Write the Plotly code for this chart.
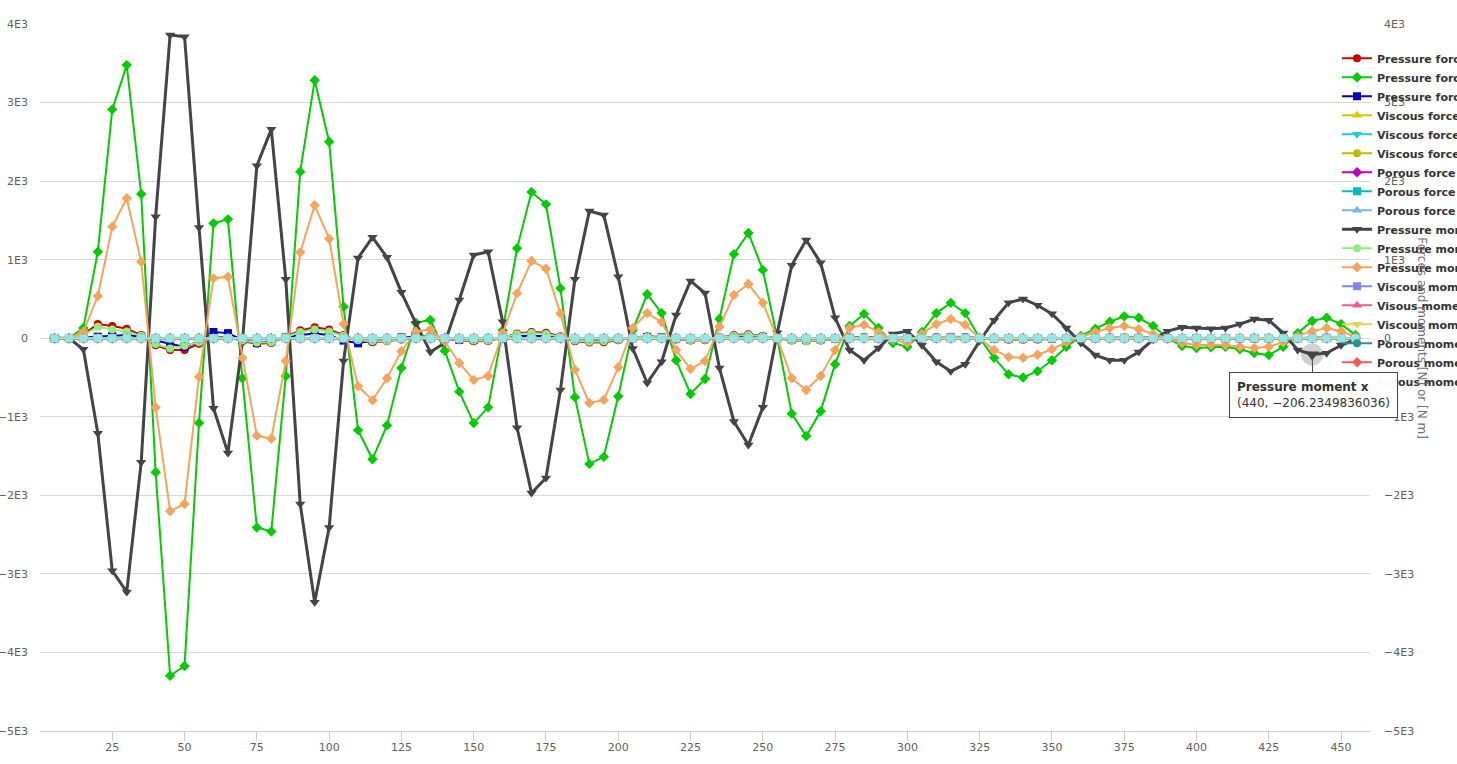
import plotly.graph_objects as go

# ---------------- data ----------------
x_values = [5, 10, 15, 20, 25, 30, 35, 40, 45, 50,
            55, 60, 65, 70, 75, 80, 85, 90, 95, 100,
            105, 110, 115, 120, 125, 130, 135, 140, 145, 150,
            155, 160, 165, 170, 175, 180, 185, 190, 195, 200,
            205, 210, 215, 220, 225, 230, 235, 240, 245, 250,
            255, 260, 265, 270, 275, 280, 285, 290, 295, 300,
            305, 310, 315, 320, 325, 330, 335, 340, 345, 350,
            355, 360, 365, 370, 375, 380, 385, 390, 395, 400,
            405, 410, 415, 420, 425, 430, 435, 440, 445, 450,
            455]

pressure_force_x = [0, 0, 50, 180, 155, 120, 40, -90, -150, -150,
                    -70, 10, 20, -40, -70, -60, 20, 100, 140, 110,
                    40, -30, -50, -40, -15, 20, 30, 5, -25, -40,
                    -35, 10, 60, 80, 70, 25, -40, -55, -50, -25,
                    10, 25, 15, -15, -30, -25, 10, 40, 50, 30,
                    0, -30, -40, -30, -10, 10, 15, 5, -5, -5,
                    5, 15, 20, 15, 0, -10, -20, -20, -15, -10,
                    -5, 0, 5, 10, 10, 10, 5, 0, -5, -5,
                    -5, -5, -5, -10, -10, -5, 0, 10, 10, 5,
                    0]

pressure_force_y = [0, 0, 130, 1101, 2913, 3477, 1835, -1706, -4297, -4172,
                    -1080, 1462, 1513, -510, -2410, -2460, -480, 2120, 3283, 2502,
                    401, -1170, -1540, -1110, -380, 197, 232, -159, -680, -1080,
                    -880, 100, 1144, 1861, 1704, 635, -750, -1600, -1510, -740,
                    100, 560, 320, -280, -710, -520, 245, 1070, 1340, 870,
                    0, -960, -1245, -930, -330, 155, 310, 130, -60, -110,
                    80, 320, 450, 320, 0, -250, -460, -500, -420, -280,
                    -110, 30, 120, 210, 280, 260, 155, 0, -100, -125,
                    -115, -110, -140, -190, -215, -110, 65, 220, 260, 180,
                    40]

pressure_force_z = [0, 0, 10, 20, 30, 40, 20, -30, -70, -110,
                    -40, 80, 65, -20, -60, -40, 10, 40, 60, 40,
                    -30, -65, -30, -10, 10, 20, 10, -10, -20, -20,
                    -15, 10, 25, 30, 25, 5, -15, -20, -20, -10,
                    5, 15, 10, -5, -15, -10, 5, 15, 20, 15,
                    0, -15, -20, -15, -5, 5, 5, 0, 0, 0,
                    5, 5, 10, 5, 0, -5, -10, -10, -5, -5,
                    0, 0, 0, 5, 5, 5, 0, 0, 0, 0,
                    0, 0, 0, 0, 0, 0, 0, 5, 5, 0,
                    0]

pressure_moment_x = [0, 0, -140, -1210, -2960, -3230, -1580, 1547, 3860, 3838,
                     1411, -890, -1460, -50, 2196, 2659, 750, -2110, -3360, -2410,
                     -290, 1021, 1284, 1030, 584, 190, -175, -60, 486, 1059,
                     1101, 210, -1140, -1970, -1780, -660, 750, 1620, 1568, 783,
                     -130, -570, -300, 295, 730, 575, -380, -1060, -1360, -880,
                     70, 930, 1250, 960, 260, -150, -280, -125, 55, 90,
                     -90, -300, -420, -330, -35, 230, 450, 500, 420, 310,
                     130, -60, -215, -280, -280, -175, -20, 90, 140, 130,
                     120, 130, 180, 245, 230, 65, -150, -206.2349836036, -190, -90,
                     -15]

pressure_moment_y = [0, 0, 40, 145, 110, 85, 30, -75, -130, -95,
                     -50, 5, 10, -30, -55, -50, 15, 80, 110, 85,
                     30, -25, -40, -35, -10, 15, 25, 5, -20, -30,
                     -30, 10, 50, 65, 55, 20, -30, -45, -40, -20,
                     10, 20, 10, -10, -25, -20, 10, 30, 40, 25,
                     0, -25, -35, -25, -10, 10, 10, 5, -5, -5,
                     5, 10, 15, 10, 0, -10, -15, -15, -10, -5,
                     -5, 0, 5, 5, 10, 5, 5, 0, -5, -5,
                     -5, -5, -5, -5, -10, -5, 0, 5, 10, 5,
                     0]

pressure_moment_z = [0, 0, 80, 537, 1420, 1781, 974, -880, -2200, -2110,
                     -490, 762, 783, -250, -1240, -1280, -290, 1093, 1692, 1267,
                     180, -610, -790, -510, -165, 83, 113, -40, -315, -530,
                     -480, 60, 571, 983, 885, 316, -400, -825, -785, -370,
                     130, 320, 205, -150, -390, -290, 145, 550, 690, 450,
                     0, -510, -660, -480, -150, 130, 170, 80, -20, -60,
                     55, 180, 245, 170, 0, -150, -240, -250, -210, -140,
                     -50, 15, 80, 130, 155, 115, 55, -10, -60, -85,
                     -85, -85, -110, -125, -110, -50, 30, 90, 130, 90,
                     15]

# viscous and porous contributions read as 0 at every sample
near_zero = [0, 0, 0, 0, 0, 0, 0, 0, 0, 0,
             0, 0, 0, 0, 0, 0, 0, 0, 0, 0,
             0, 0, 0, 0, 0, 0, 0, 0, 0, 0,
             0, 0, 0, 0, 0, 0, 0, 0, 0, 0,
             0, 0, 0, 0, 0, 0, 0, 0, 0, 0,
             0, 0, 0, 0, 0, 0, 0, 0, 0, 0,
             0, 0, 0, 0, 0, 0, 0, 0, 0, 0,
             0, 0, 0, 0, 0, 0, 0, 0, 0, 0,
             0, 0, 0, 0, 0, 0, 0, 0, 0, 0,
             0]

series_names = ["Pressure force x", "Pressure force y", "Pressure force z",
                "Viscous force x", "Viscous force y", "Viscous force z",
                "Porous force x", "Porous force y", "Porous force z",
                "Pressure moment x", "Pressure moment y", "Pressure moment z",
                "Viscous moment x", "Visous moment y", "Viscous moment z",
                "Porous moment x", "Porous moment y", "Porous moment z"]

series_values = [pressure_force_x, pressure_force_y, pressure_force_z,
                 near_zero, near_zero, near_zero,
                 near_zero, near_zero, near_zero,
                 pressure_moment_x, pressure_moment_y, pressure_moment_z,
                 near_zero, near_zero, near_zero,
                 near_zero, near_zero, near_zero]

x_tick_values = [25, 50, 75, 100, 125, 150, 175, 200, 225, 250,
                 275, 300, 325, 350, 375, 400, 425, 450]
y_tick_values = [-5000, -4000, -3000, -2000, -1000, 0, 1000, 2000, 3000, 4000]
y_tick_labels = ["\u22125E3", "\u22124E3", "\u22123E3", "\u22122E3", "\u22121E3",
                 "0", "1E3", "2E3", "3E3", "4E3"]

hover_x = 440
hover_series = "Pressure moment x"

# ---------------- styles ----------------
colors = ["#cc0000", "#00cc00", "#0000bb",
          "#cccc00", "#22cccc", "#bbbb00",
          "#bb00bb", "#00bbbb", "#7cb5ec",
          "#434348", "#90ed7d", "#f7a35c",
          "#8085e9", "#f15c80", "#e4d354",
          "#2b908f", "#f45b5b", "#91e8e1"]
symbols = ["circle", "diamond", "square",
           "triangle-up", "triangle-down", "circle",
           "diamond", "square", "triangle-up",
           "triangle-down", "circle", "diamond",
           "square", "triangle-up", "triangle-down",
           "circle", "diamond", "square"]
marker_sizes = {"circle": 8, "square": 8, "diamond": 8,
                "triangle-up": 9, "triangle-down": 9}

FONT = "DejaVu Sans, Verdana, sans-serif"

fig = go.Figure()
for name, vals, col, sym in zip(series_names, series_values, colors, symbols):
    fig.add_trace(go.Scatter(
        x=x_values, y=vals, name=name, mode="lines+markers",
        line=dict(color=col, width=3 if name == "Pressure moment x" else 2),
        marker=dict(symbol=sym, color=col, size=marker_sizes[sym],
                    line=dict(width=0)),
    ))

# hover halo of the highlighted point
hi = series_names.index(hover_series)
hv = series_values[hi][x_values.index(hover_x)]
fig.add_trace(go.Scatter(
    x=[hover_x], y=[hv], mode="markers", showlegend=False, hoverinfo="skip",
    marker=dict(symbol="circle", size=22, color="rgba(67,67,72,0.25)",
                line=dict(width=0)),
))
fig.add_trace(go.Scatter(
    x=[hover_x], y=[hv], mode="markers", showlegend=False, hoverinfo="skip",
    marker=dict(symbol="triangle-down", size=12, color=colors[hi],
                line=dict(width=0)),
))

fig.update_layout(
    width=1457, height=764,
    margin=dict(l=40, r=87, t=24, b=33, autoexpand=False),
    paper_bgcolor="white", plot_bgcolor="white",
    font=dict(family=FONT, size=11, color="#606060"),
    showlegend=True,
    legend=dict(x=0.9752, xanchor="left", y=0.972, yanchor="top",
                yref="paper",
                bgcolor="rgba(0,0,0,0)", borderwidth=0,
                font=dict(family=FONT, size=11, color="#333333", weight="bold"),
                itemwidth=30, tracegroupgap=0),
    xaxis=dict(range=[0, 460], tickmode="array", tickvals=x_tick_values,
               showgrid=False, zeroline=False,
               showline=True, linecolor="#C0D0E0", linewidth=1,
               ticks="outside", ticklen=9, tickcolor="#C0D0E0", tickwidth=1,
               ticklabelstandoff=-3,
               tickfont=dict(family=FONT, size=11, color="#606060")),
    yaxis=dict(range=[-5000, 4000], tickmode="array", tickvals=y_tick_values,
               ticktext=y_tick_labels, showgrid=True, gridcolor="#D8D8D8",
               gridwidth=1, zeroline=False, showline=False, ticks="",
               ticklabelstandoff=11,
               tickfont=dict(family=FONT, size=11, color="#606060")),
    yaxis2=dict(range=[-5000, 4000], overlaying="y", side="right",
                tickmode="array", tickvals=y_tick_values, ticktext=y_tick_labels,
                showgrid=False, zeroline=False, showline=False, ticks="",
                ticklabelstandoff=13,
                tickfont=dict(family=FONT, size=11, color="#606060")),
    hovermode=False,
)

# invisible trace so the right axis is drawn
fig.add_trace(go.Scatter(x=[x_values[0]], y=[0], yaxis="y2", mode="markers",
                         marker=dict(opacity=0), showlegend=False,
                         hoverinfo="skip"))

fig.add_annotation(
    text="Forces and moments [N] or [N m]", textangle=90,
    xref="paper", x=1.039, xanchor="center", yref="y", y=0, showarrow=False,
    font=dict(family=FONT, size=12, color="#707070"),
)

# tooltip
fig.add_annotation(
    xref="x", yref="y", x=hover_x, y=hv,
    text="<b>%s</b><br>(%d, \u2212%s)" % (hover_series, hover_x, repr(abs(hv))),
    align="left", showarrow=True, arrowhead=0, arrowwidth=1,
    arrowcolor="#434348", ax=1, ay=41, standoff=0,
    bgcolor="rgba(255,255,255,0.97)", bordercolor="#434348", borderwidth=1,
    borderpad=7,
    font=dict(family=FONT, size=12, color="#333333"),
)

fig.write_html("out.html",
               config={"displayModeBar": False},
               post_script="document.body.style.margin='0px';"
                           "document.body.style.overflow='hidden';")
